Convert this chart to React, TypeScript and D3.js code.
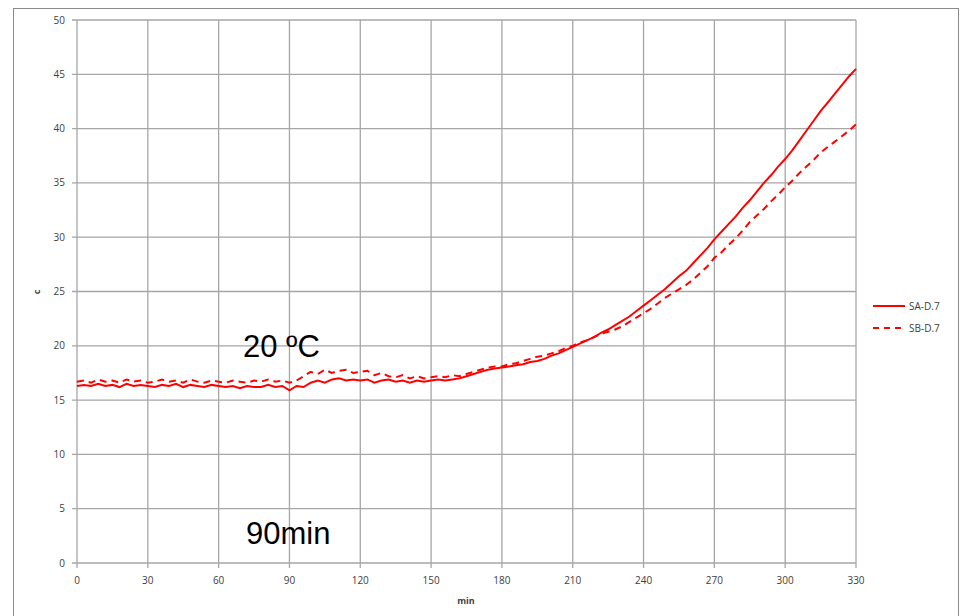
import React from "react";
import * as d3 from "d3";

// minutes, sampled every 3 min
const minutes: number[] = d3.range(0, 331, 3);

const saValues: number[] = [
  // 0-60
  16.3, 16.4, 16.3, 16.5, 16.3, 16.4, 16.2, 16.5, 16.3, 16.4, 16.3, 16.2, 16.4, 16.3, 16.5, 16.2, 16.4, 16.3, 16.2, 16.4, 16.3,
  // 63-90
  16.2, 16.3, 16.1, 16.3, 16.2, 16.2, 16.4, 16.2, 16.3, 15.9,
  // 93-120
  16.3, 16.2, 16.6, 16.8, 16.6, 16.9, 17.0, 16.8, 16.9, 16.8,
  // 123-150
  16.9, 16.6, 16.8, 16.9, 16.7, 16.8, 16.6, 16.8, 16.7, 16.8,
  // 153-180
  16.9, 16.8, 16.9, 17.0, 17.2, 17.4, 17.6, 17.8, 17.9, 18.0,
  // 183-210
  18.1, 18.2, 18.3, 18.5, 18.6, 18.8, 19.1, 19.3, 19.6, 19.9,
  // 213-240
  20.2, 20.5, 20.8, 21.2, 21.5, 21.9, 22.3, 22.7, 23.2, 23.7,
  // 243-270
  24.2, 24.7, 25.2, 25.8, 26.4, 26.9, 27.6, 28.3, 29.0, 29.8,
  // 273-300
  30.5, 31.2, 31.9, 32.7, 33.4, 34.2, 35.0, 35.7, 36.5, 37.2,
  // 303-330
  38.0, 38.9, 39.8, 40.7, 41.6, 42.4, 43.2, 44.0, 44.8, 45.5,
];

const sbValues: number[] = [
  // 0-60
  16.7, 16.8, 16.6, 16.9, 16.7, 16.8, 16.6, 16.9, 16.7, 16.8, 16.6, 16.7, 16.9, 16.7, 16.8, 16.6, 16.9, 16.7, 16.6, 16.8, 16.7,
  // 63-90
  16.6, 16.8, 16.7, 16.6, 16.8, 16.7, 16.9, 16.7, 16.8, 16.6,
  // 93-120
  16.8, 17.2, 17.6, 17.4, 17.8, 17.5, 17.7, 17.8, 17.5, 17.6,
  // 123-150
  17.7, 17.3, 17.5, 17.2, 17.1, 17.3, 17.0, 17.2, 17.0, 17.1,
  // 153-180
  17.2, 17.1, 17.3, 17.2, 17.4, 17.6, 17.8, 18.0, 18.1, 18.1,
  // 183-210
  18.3, 18.4, 18.6, 18.8, 19.0, 19.1, 19.3, 19.5, 19.8, 20.0,
  // 213-240
  20.3, 20.5, 20.8, 21.1, 21.3, 21.5, 21.8, 22.2, 22.6, 23.0,
  // 243-270
  23.4, 23.9, 24.4, 24.8, 25.2, 25.6, 26.1, 26.7, 27.3, 28.1,
  // 273-300
  28.6, 29.3, 29.9, 30.6, 31.4, 32.0, 32.6, 33.3, 33.9, 34.6,
  // 303-330
  35.2, 35.9, 36.5, 37.1, 37.8, 38.3, 38.8, 39.3, 39.8, 40.4,
];

const xTicks: number[] = d3.range(0, 331, 30);
const yTicks: number[] = d3.range(0, 51, 5);

const seriesNames = ["SA-D.7", "SB-D.7"];

export default function App() {
  const width = 963;
  const height = 616;
  const plot = { left: 77, right: 856, top: 20, bottom: 563 };

  const x = d3.scaleLinear().domain([0, 330]).range([plot.left, plot.right]);
  const y = d3.scaleLinear().domain([0, 50]).range([plot.bottom, plot.top]);

  const lineGen = d3
    .line<number>()
    .x((_, i) => x(minutes[i]))
    .y((d) => y(d));

  const gridColor = "#a6a6a6";
  const tickFont = "'Open Sans', 'DejaVu Sans', sans-serif";
  const red = "#ff0000";

  return (
    <svg
      width={width}
      height={height}
      style={{ position: "absolute", left: 0, top: 0, background: "#fff" }}
    >
      {/* outer border */}
      <rect x={13.5} y={8.5} width={945} height={620} fill="none" stroke="#8c8c8c" strokeWidth={1} />

      {/* horizontal grid + y ticks */}
      {yTicks.map((t) => (
        <g key={"y" + t}>
          <line x1={plot.left - 5} x2={plot.right} y1={y(t)} y2={y(t)} stroke={gridColor} strokeWidth={1.3} />
          <text
            x={65}
            y={y(t) + 3.5}
            textAnchor="end"
            fontSize={10}
            fontFamily={tickFont}
            fill="#404040"
          >
            {t}
          </text>
        </g>
      ))}

      {/* vertical grid + x ticks */}
      {xTicks.map((t) => (
        <g key={"x" + t}>
          <line x1={x(t)} x2={x(t)} y1={plot.top} y2={plot.bottom + 5} stroke={gridColor} strokeWidth={1.3} />
          <text
            x={x(t)}
            y={584}
            textAnchor="middle"
            fontSize={10}
            fontFamily={tickFont}
            fill="#404040"
          >
            {t}
          </text>
        </g>
      ))}

      {/* axis titles */}
      <text
        transform={`translate(40,292) rotate(-90)`}
        textAnchor="middle"
        fontSize={9}
        fontWeight="bold"
        fontFamily={tickFont}
        fill="#404040"
      >
        c
      </text>
      <text x={466} y={604} textAnchor="middle" fontSize={9} fontWeight="bold" fontFamily={tickFont} fill="#404040">
        min
      </text>

      {/* series */}
      <path d={lineGen(sbValues) ?? ""} fill="none" stroke={red} strokeWidth={2} strokeDasharray="7,5" />
      <path d={lineGen(saValues) ?? ""} fill="none" stroke={red} strokeWidth={2} />

      {/* legend */}
      <g>
        <line x1={873} x2={905} y1={306} y2={306} stroke={red} strokeWidth={2} />
        <text x={909} y={309.5} fontSize={10} fontFamily={tickFont} fill="#404040">
          {seriesNames[0]}
        </text>
        <line x1={873} x2={905} y1={328} y2={328} stroke={red} strokeWidth={2} strokeDasharray="6,5" />
        <text x={909} y={331.5} fontSize={10} fontFamily={tickFont} fill="#404040">
          {seriesNames[1]}
        </text>
      </g>

      {/* annotations */}
      <text x={243} y={357} fontSize={31} fontFamily="'Liberation Sans', Arial, sans-serif" fill="#000">
        20 ºC
      </text>
      <text x={246} y={544} fontSize={31} fontFamily="'Liberation Sans', Arial, sans-serif" fill="#000">
        90min
      </text>
    </svg>
  );
}
